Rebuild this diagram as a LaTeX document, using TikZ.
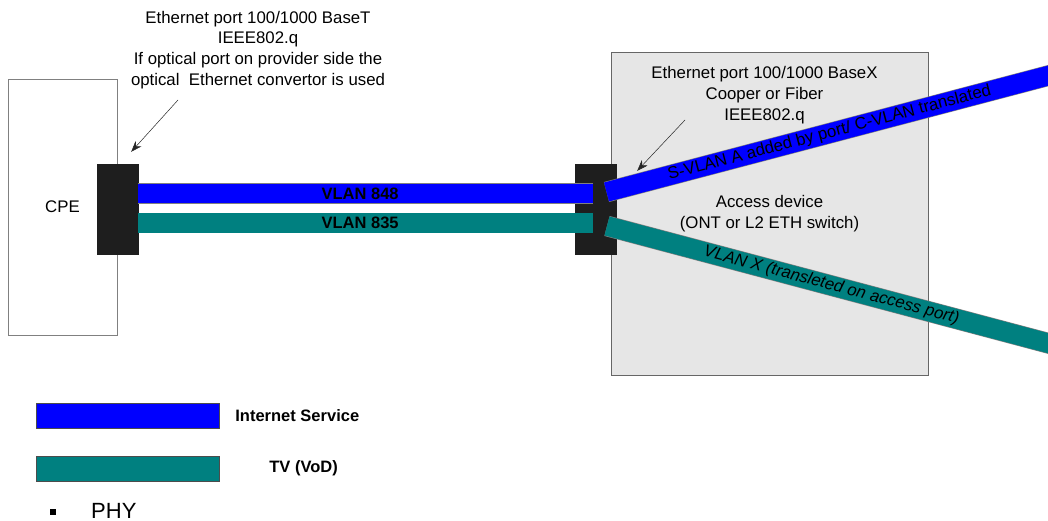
\documentclass[tikz,border=0pt]{standalone}
\usepackage{fontspec}
\setmainfont{Liberation Sans}
\usetikzlibrary{arrows.meta, positioning}

\definecolor{inetblue}{RGB}{0,0,255}
\definecolor{tvteal}{RGB}{0,128,128}
\definecolor{portgray}{RGB}{30,30,30}
\definecolor{boxgray}{RGB}{230,230,230}

\begin{document}
\begin{tikzpicture}[x=1pt, y=-1pt, >={Stealth[length=11pt, width=8pt]},
  txt/.style={align=center, inner sep=0pt, font=\fontsize{16.8}{20.8}\selectfont},
  vlanlbl/.style={txt, font=\fontsize{16.5}{20}\selectfont\bfseries},
  port/.style={fill=portgray, draw=portgray, minimum width=41pt, minimum height=90pt, inner sep=0pt},
  vlan/.style={draw=gray, line width=0.6pt, double=#1, double distance=19.5pt},
  legbox/.style={fill=#1, draw=black!70, minimum width=183pt, minimum height=25pt, inner sep=0pt},
  callout/.style={->, draw=black!85, line width=0.5pt}]
  \useasboundingbox (0,0) rectangle (1048,521);
  \clip (0,0) rectangle (1048,521);

  % boxes and ports
  \node[txt, draw=gray, fill=white, minimum width=109pt, minimum height=256pt] (cpe) at (62.5,207) {CPE};
  \node[txt, draw=black!60, fill=boxgray, minimum width=317pt, minimum height=323pt] (access) at (769.5,213.5) {Access device\\(ONT or L2 ETH switch)};
  \node[port] (lport) at (117.5,209) {};
  \node[port] (rport) at (595.5,209) {};

  \node[txt] (ltext) at (258,50) {Ethernet port 100/1000 BaseT\\IEEE802.q\\If optical port on provider side the\\optical\ \ Ethernet convertor is used};
  \node[txt] (rtext) at (764.5,95) {Ethernet port 100/1000 BaseX\\Cooper or Fiber\\IEEE802.q};

  % links CPE -- access device
  \draw[vlan=inetblue] ([yshift=15.5pt]lport.east) -- node[vlanlbl, pos=0.488] (v848) {VLAN 848} ([xshift=-2.5pt, yshift=15.5pt]rport.center);
  \draw[vlan=tvteal] ([yshift=-14pt]lport.east) -- node[vlanlbl, pos=0.488] (v835) {VLAN 835} ([xshift=-2.5pt, yshift=-14pt]rport.center);

  % links out of the access device
  \coordinate (sout) at (1100,62);
  \coordinate (tout) at (1100,357);
  \draw[vlan=inetblue] ([xshift=11pt, yshift=17pt]rport.center) -- node[txt, sloped, pos=0.452] (svlan) {S-VLAN A added by port/ C-VLAN translated} (sout);
  \draw[vlan=tvteal] ([xshift=11.5pt, yshift=-17pt]rport.center) -- node[txt, sloped, pos=0.455, font=\fontsize{16.8}{20}\selectfont\itshape] (vlanx) {VLAN X (transleted on access port)} (tout);

  % callouts
  \coordinate (lfrom) at (178,100);
  \coordinate (rfrom) at (685,120);
  \draw[callout] (lfrom) -- ([xshift=-7pt, yshift=12pt]lport.north east);
  \draw[callout] (rfrom) -- ([xshift=21pt, yshift=-7pt]rport.north east);

  % legend
  \node[legbox=inetblue] (leginet) at (127.5,415.5) {};
  \node[legbox=tvteal] (legtv) at (127.5,468.5) {};
  \node[vlanlbl, right=16pt of leginet] (inettxt) {Internet Service};
  \node[vlanlbl, right=50pt of legtv] (tvtxt) {TV (VoD)};
  \node[fill=black, minimum size=6pt, inner sep=0pt] (bullet) at (53,512) {};
  \node[txt, font=\fontsize{22}{26}\selectfont, anchor=west] (phy) at (91,511) {PHY};
\end{tikzpicture}
\end{document}
